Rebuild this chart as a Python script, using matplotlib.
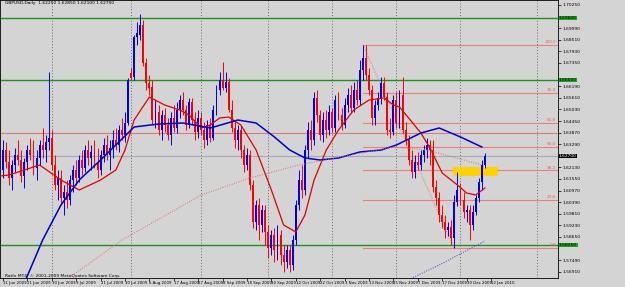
import numpy as np
import matplotlib.pyplot as plt
from matplotlib.patches import Rectangle

# GBPUSD daily candles
opens = [1.6200, 1.6300, 1.6240, 1.6160, 1.6225, 1.6275, 1.6250, 1.6170, 1.6240, 1.6300,
         1.6275, 1.6210, 1.6260, 1.6325, 1.6300, 1.6340, 1.6360, 1.6225, 1.6125, 1.6160,
         1.6060, 1.6090, 1.6050, 1.6150, 1.6200, 1.6160, 1.6250, 1.6210, 1.6300, 1.6260,
         1.6290, 1.6240, 1.6200, 1.6275, 1.6325, 1.6275, 1.6310, 1.6350, 1.6325, 1.6400,
         1.6375, 1.6435, 1.6685, 1.6665, 1.6865, 1.6875, 1.6925, 1.6735, 1.6635, 1.6615,
         1.6450, 1.6490, 1.6400, 1.6475, 1.6425, 1.6375, 1.6460, 1.6410, 1.6500, 1.6550,
         1.6500, 1.6425, 1.6540, 1.6450, 1.6390, 1.6460, 1.6400, 1.6350, 1.6425, 1.6360,
         1.6500, 1.6600, 1.6650, 1.6610, 1.6640, 1.6500, 1.6410, 1.6350, 1.6400, 1.6300,
         1.6225, 1.6275, 1.6125, 1.5940, 1.6025, 1.5925, 1.6000, 1.5890, 1.5810, 1.5875,
         1.5800, 1.5875, 1.5775, 1.5740, 1.5800, 1.5725, 1.5850, 1.6025, 1.6150, 1.6100,
         1.6300, 1.6400, 1.6350, 1.6560, 1.6475, 1.6375, 1.6450, 1.6400, 1.6490, 1.6410,
         1.6550, 1.6475, 1.6425, 1.6525, 1.6575, 1.6510, 1.6600, 1.6550, 1.6700, 1.6760,
         1.6675, 1.6600, 1.6460, 1.6525, 1.6560, 1.6635, 1.6565, 1.6400, 1.6390, 1.6550,
         1.6435, 1.6575, 1.6400, 1.6350, 1.6250, 1.6190, 1.6240, 1.6225, 1.6275, 1.6300,
         1.6325, 1.6300, 1.6115, 1.6060, 1.5975, 1.5940, 1.5900, 1.5915, 1.5860, 1.6040,
         1.6100, 1.6050, 1.5990, 1.6000, 1.5925, 1.5990, 1.6060, 1.6140, 1.6225]
highs = [1.6350, 1.6340, 1.6300, 1.6250, 1.6310, 1.6350, 1.6300, 1.6260, 1.6325, 1.6360,
         1.6350, 1.6300, 1.6350, 1.6410, 1.6375, 1.6690, 1.6400, 1.6275, 1.6200, 1.6200,
         1.6125, 1.6150, 1.6175, 1.6225, 1.6250, 1.6275, 1.6300, 1.6325, 1.6350, 1.6325,
         1.6350, 1.6310, 1.6300, 1.6360, 1.6375, 1.6350, 1.6400, 1.6410, 1.6425, 1.6460,
         1.6490, 1.6660, 1.6710, 1.6875, 1.6940, 1.6980, 1.6950, 1.6760, 1.6675, 1.6650,
         1.6550, 1.6525, 1.6500, 1.6510, 1.6460, 1.6490, 1.6525, 1.6540, 1.6575, 1.6590,
         1.6525, 1.6560, 1.6560, 1.6490, 1.6500, 1.6490, 1.6440, 1.6450, 1.6460, 1.6525,
         1.6625, 1.6690, 1.6740, 1.6690, 1.6660, 1.6550, 1.6450, 1.6425, 1.6425, 1.6325,
         1.6310, 1.6300, 1.6150, 1.6050, 1.6060, 1.6025, 1.6025, 1.5925, 1.5900, 1.5910,
         1.5925, 1.5900, 1.5825, 1.5825, 1.5825, 1.5875, 1.6050, 1.6200, 1.6225, 1.6325,
         1.6440, 1.6450, 1.6590, 1.6600, 1.6500, 1.6490, 1.6500, 1.6525, 1.6510, 1.6575,
         1.6590, 1.6510, 1.6560, 1.6610, 1.6625, 1.6640, 1.6650, 1.6750, 1.6825, 1.6825,
         1.6710, 1.6625, 1.6550, 1.6590, 1.6665, 1.6665, 1.6590, 1.6460, 1.6575, 1.6590,
         1.6600, 1.6665, 1.6440, 1.6375, 1.6300, 1.6275, 1.6290, 1.6300, 1.6325, 1.6360,
         1.6350, 1.6350, 1.6150, 1.6090, 1.6025, 1.5975, 1.5940, 1.5950, 1.6075, 1.6190,
         1.6135, 1.6090, 1.6025, 1.6025, 1.6025, 1.6075, 1.6160, 1.6250, 1.6285]
lows = [1.6160, 1.6210, 1.6125, 1.6100, 1.6190, 1.6225, 1.6140, 1.6110, 1.6200, 1.6250,
        1.6175, 1.6150, 1.6225, 1.6260, 1.6240, 1.6300, 1.6200, 1.6100, 1.6050, 1.6025,
        1.5975, 1.6010, 1.6025, 1.6090, 1.6125, 1.6140, 1.6175, 1.6190, 1.6225, 1.6200,
        1.6210, 1.6160, 1.6175, 1.6240, 1.6250, 1.6200, 1.6260, 1.6300, 1.6290, 1.6350,
        1.6340, 1.6425, 1.6650, 1.6650, 1.6825, 1.6850, 1.6720, 1.6600, 1.6575, 1.6425,
        1.6410, 1.6375, 1.6350, 1.6390, 1.6350, 1.6325, 1.6390, 1.6385, 1.6460, 1.6475,
        1.6400, 1.6410, 1.6425, 1.6350, 1.6360, 1.6375, 1.6310, 1.6325, 1.6340, 1.6350,
        1.6475, 1.6575, 1.6600, 1.6590, 1.6490, 1.6390, 1.6310, 1.6300, 1.6260, 1.6190,
        1.6200, 1.6100, 1.5910, 1.5900, 1.5850, 1.5890, 1.5825, 1.5760, 1.5775, 1.5740,
        1.5750, 1.5725, 1.5690, 1.5710, 1.5690, 1.5700, 1.5825, 1.6000, 1.6060, 1.6075,
        1.6260, 1.6300, 1.6325, 1.6440, 1.6350, 1.6340, 1.6360, 1.6375, 1.6390, 1.6390,
        1.6450, 1.6400, 1.6410, 1.6490, 1.6490, 1.6490, 1.6525, 1.6525, 1.6650, 1.6650,
        1.6575, 1.6425, 1.6425, 1.6500, 1.6530, 1.6550, 1.6375, 1.6360, 1.6375, 1.6410,
        1.6410, 1.6385, 1.6325, 1.6225, 1.6160, 1.6160, 1.6200, 1.6200, 1.6240, 1.6260,
        1.6225, 1.6090, 1.6025, 1.5940, 1.5910, 1.5860, 1.5870, 1.5825, 1.5810, 1.6020,
        1.6025, 1.5960, 1.5940, 1.5850, 1.5900, 1.5975, 1.6040, 1.6100, 1.6210]
closes = [1.6300, 1.6240, 1.6160, 1.6225, 1.6275, 1.6250, 1.6170, 1.6240, 1.6300, 1.6275,
          1.6210, 1.6260, 1.6325, 1.6300, 1.6340, 1.6360, 1.6225, 1.6125, 1.6160, 1.6060,
          1.6090, 1.6050, 1.6150, 1.6200, 1.6160, 1.6250, 1.6210, 1.6300, 1.6260, 1.6290,
          1.6240, 1.6200, 1.6275, 1.6325, 1.6275, 1.6310, 1.6350, 1.6325, 1.6400, 1.6375,
          1.6435, 1.6650, 1.6660, 1.6865, 1.6885, 1.6925, 1.6735, 1.6635, 1.6610, 1.6450,
          1.6490, 1.6400, 1.6475, 1.6425, 1.6375, 1.6460, 1.6410, 1.6500, 1.6550, 1.6500,
          1.6425, 1.6540, 1.6450, 1.6390, 1.6460, 1.6400, 1.6350, 1.6425, 1.6360, 1.6500,
          1.6600, 1.6650, 1.6610, 1.6640, 1.6500, 1.6410, 1.6350, 1.6400, 1.6300, 1.6225,
          1.6275, 1.6125, 1.5940, 1.6025, 1.5925, 1.6000, 1.5890, 1.5810, 1.5875, 1.5800,
          1.5875, 1.5775, 1.5740, 1.5800, 1.5725, 1.5850, 1.6025, 1.6150, 1.6100, 1.6300,
          1.6400, 1.6350, 1.6560, 1.6475, 1.6375, 1.6450, 1.6400, 1.6490, 1.6410, 1.6550,
          1.6475, 1.6425, 1.6525, 1.6575, 1.6510, 1.6600, 1.6550, 1.6700, 1.6760, 1.6675,
          1.6600, 1.6460, 1.6525, 1.6560, 1.6635, 1.6565, 1.6400, 1.6390, 1.6550, 1.6435,
          1.6575, 1.6400, 1.6350, 1.6250, 1.6190, 1.6240, 1.6225, 1.6275, 1.6300, 1.6325,
          1.6300, 1.6115, 1.6060, 1.5975, 1.5940, 1.5900, 1.5915, 1.5860, 1.6040, 1.6100,
          1.6050, 1.5990, 1.6000, 1.5925, 1.5990, 1.6060, 1.6140, 1.6225, 1.6270]

date_labels = ["11 Jun 2009", "21 Jun 2009", "30 Jun 2009", "9 Jul 2009", "21 Jul 2009",
               "30 Jul 2009", "6 Aug 2009", "17 Aug 2009", "27 Aug 2009", "8 Sep 2009",
               "18 Sep 2009", "30 Sep 2009", "12 Oct 2009", "22 Oct 2009", "3 Nov 2009",
               "13 Nov 2009", "25 Nov 2009", "7 Dec 2009", "17 Dec 2009", "30 Dec 2009",
               "12 Jan 2010"]
month_starts = [16, 42, 65, 87, 108, 129, 150, 175]

# moving averages (bar index, price)
fast_ma_x = [-1, 2, 12, 19, 25, 32, 37, 40, 43, 48, 53, 58, 61, 65, 68, 71, 74, 78, 83, 88,
             92, 96, 99, 102, 106, 110, 115, 120, 125, 128, 130, 133, 137, 140, 144, 149,
             152, 155, 158]
fast_ma = [1.6170, 1.6175, 1.6225, 1.6150, 1.6100, 1.6150, 1.6200, 1.6300, 1.6450, 1.6565,
           1.6525, 1.6500, 1.6475, 1.6410, 1.6425, 1.6460, 1.6465, 1.6425, 1.6300, 1.6100,
           1.5925, 1.5890, 1.5975, 1.6150, 1.6300, 1.6400, 1.6500, 1.6550, 1.6560, 1.6525,
           1.6515, 1.6460, 1.6385, 1.6310, 1.6185, 1.6125, 1.6085, 1.6075, 1.6110]
slow_ma_x = [7, 13, 19, 25, 32, 43, 51, 59, 68, 77, 83, 89, 94, 99, 104, 110, 117, 124,
             129, 137, 143, 150, 157]
slow_ma = [1.5635, 1.5850, 1.6025, 1.6150, 1.6250, 1.6415, 1.6430, 1.6435, 1.6410, 1.6450,
           1.6435, 1.6365, 1.6300, 1.6260, 1.6250, 1.6260, 1.6290, 1.6300, 1.6325, 1.6385,
           1.6410, 1.6365, 1.6315]
long_ma_x = [22, 39, 65, 81, 97, 114, 128, 139, 157]
long_ma = [1.5665, 1.5850, 1.6075, 1.6160, 1.6225, 1.6275, 1.6315, 1.6300, 1.6225]
longer_ma_x = [128, 143, 158]
longer_ma = [1.5615, 1.5725, 1.5845]

green_levels = [1.6960, 1.6650, 1.5825]
red_level = 1.6385
fib_ratios = [0.0, 0.236, 0.382, 0.5, 0.618, 0.764, 1.0]
fib_hi_bar, fib_lo_bar = 118, 148

o = np.array(opens)
h = np.array(highs)
l = np.array(lows)
c = np.array(closes)
x = np.arange(len(c))

bg = '#d4d4d4'
blue = '#0000ee'
red = '#ff0000'

fig = plt.figure(figsize=(6.25, 2.87), dpi=100, facecolor=bg)
ax = fig.add_axes([0.0, 9 / 287, 558 / 625, 278 / 287], facecolor=bg)
ax.set_xlim(-0.98, 181.97)
ax.set_ylim(1.5660, 1.7050)

# month separators
for m in month_starts:
    ax.axvline(m, color='#6a6a6a', lw=0.7, ls=(0, (1, 2)), zorder=1)

# levels
for g in green_levels:
    ax.axhline(g, color='#1f8f1f', lw=1.0, zorder=2)
ax.axhline(red_level, color='#e07878', lw=0.8, zorder=2)
ax.axhline(c[-1], color='#a4a8b8', lw=0.8, zorder=2)

# fibonacci retracement
fib_hi = h[fib_hi_bar]
fib_lo = l[fib_lo_bar]
for r in fib_ratios:
    lvl = fib_lo + r * (fib_hi - fib_lo)
    ax.plot([fib_hi_bar, 182], [lvl, lvl], color='#e88080', lw=0.8, zorder=2)
    ax.text(181.3, lvl + 0.0003, f"{r * 100:.1f}", color='#e06060', fontsize=3.0,
            ha='right', va='bottom', zorder=6)
ax.plot([fib_hi_bar, fib_lo_bar], [fib_hi, fib_lo], color='#e07070', lw=0.7,
        ls=(0, (1, 1.5)), zorder=2)

# yellow highlight box
ax.add_patch(Rectangle((147.5, 1.6170), 14.8, 0.0045, color='#ffd200', lw=0, zorder=3))

# candles
cols = np.where(c >= o, blue, red)
ax.vlines(x, l, h, colors=cols, lw=0.7, zorder=4)
body = np.maximum(np.abs(c - o), 0.00025)
ax.bar(x, body, bottom=np.minimum(o, c), width=0.62, color=cols, linewidth=0, zorder=4)

# indicators
ax.plot(fast_ma_x, fast_ma, color='#e00000', lw=0.9, zorder=5)
ax.plot(slow_ma_x, slow_ma, color='#0000c8', lw=1.1, zorder=5)
ax.plot(long_ma_x, long_ma, color='#d87070', lw=0.7, ls=(0, (1, 1.5)), zorder=5)
ax.plot(longer_ma_x, longer_ma, color='#4040d0', lw=0.7, ls=(0, (1, 1.5)), zorder=5)

# axes styling
for s in ax.spines.values():
    s.set_color('#000000')
    s.set_linewidth(0.6)
marked = green_levels + [c[-1]]
yt = [1.7025 - 0.0058 * k for k in range(24)]
yt = [v for v in yt if min(abs(v - m) for m in marked) > 0.0030]
ax.set_yticks(yt)
ax.set_yticklabels([f"{v:.5f}" for v in yt])
ax.yaxis.tick_right()
ax.tick_params(axis='y', length=2, width=0.5, labelsize=3.2, pad=1.5, colors='#000000')
ax.set_xticks(np.arange(len(date_labels)) * 8)
ax.set_xticklabels(date_labels, ha='left')
ax.tick_params(axis='x', length=2, width=0.5, labelsize=2.8, pad=0.5)

# price labels on the axis
for g in green_levels:
    ax.text(182.3, g, f"{g:.5f}", fontsize=3.2, color='#000000', va='center', ha='left',
            bbox=dict(boxstyle='square,pad=0.1', fc='#20a020', ec='none'), clip_on=False)
ax.text(182.3, c[-1], f"{c[-1]:.5f}", fontsize=3.2, color='#ffffff', va='center', ha='left',
        bbox=dict(boxstyle='square,pad=0.1', fc='#000000', ec='none'), clip_on=False)

ax.text(0.5, 1.7037, f"GBPUSD,Daily  {o[-1]:.5f} {h[-1]:.5f} {l[-1]:.5f} {c[-1]:.5f}",
        fontsize=3.2, color='#000000', va='center', ha='left')
ax.text(0.5, 1.5672, "Ratfx MT4, \u00a9 2001-2009 MetaQuotes Software Corp.", fontsize=3.2,
        color='#000000', va='center', ha='left')

fig.savefig('out.png', dpi=100, facecolor=bg)
